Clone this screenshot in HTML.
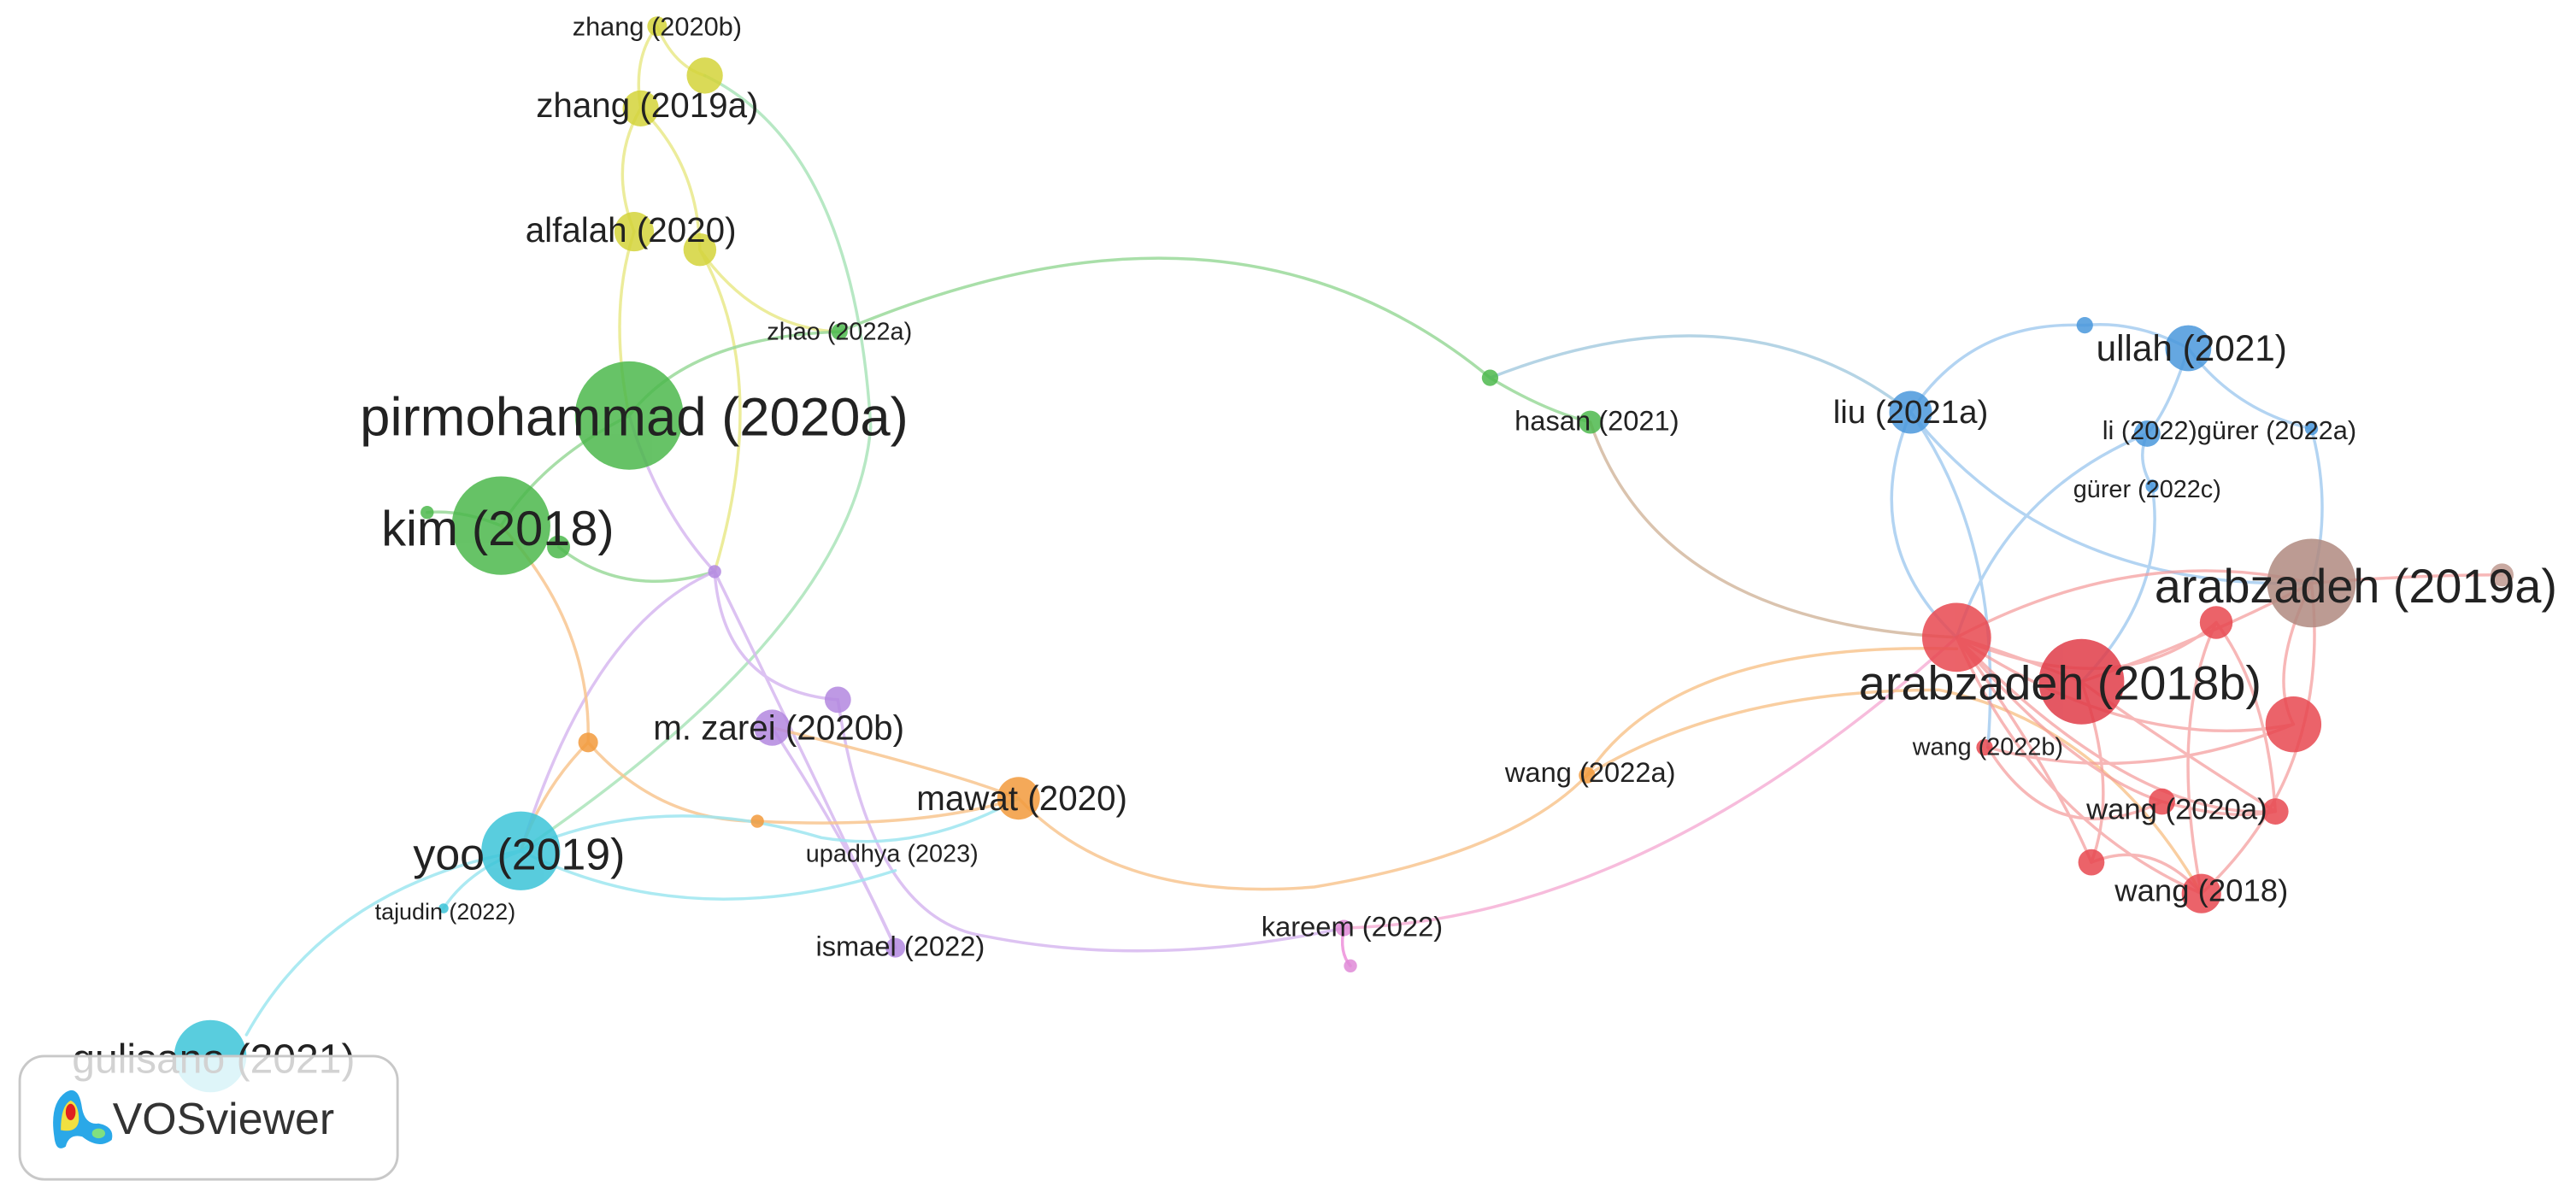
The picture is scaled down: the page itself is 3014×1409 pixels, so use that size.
<!DOCTYPE html>
<html><head><meta charset="utf-8"><style>
html,body{margin:0;padding:0;background:#fff;}
svg{display:block;}
text{font-family:"Liberation Sans",sans-serif;fill:#222;text-anchor:middle;dominant-baseline:central;}
</style></head><body>
<svg width="3014" height="1409" viewBox="0 0 1568 733" xmlns="http://www.w3.org/2000/svg">
<g fill="none" stroke-width="1.8" stroke-linecap="round">
<g stroke="#e6e67a" opacity="0.75">
<path d="M400,16 Q385,35 390,66"/>
<path d="M400,16 Q410,40 429,46"/>
<path d="M390,66 Q370,100 386,141"/>
<path d="M390,66 Q425,100 426,152"/>
<path d="M386,141 Q370,190 383,253"/>
<path d="M426,152 Q470,230 435,348"/>
<path d="M426,152 Q460,200 511,202"/>
</g>
<path d="M429,46 Q520,90 530,260 Q520,380 317,518" stroke="#9fe0b0" opacity="0.75"/>
<g stroke="#9ad99a" opacity="0.85">
<path d="M383,253 Q420,205 511,202"/>
<path d="M383,253 Q330,280 305,320"/>
<path d="M511,202 Q750,100 907,230"/>
<path d="M907,230 Q940,250 968,257"/>
<path d="M305,320 Q280,310 260,312"/>
<path d="M340,333 Q380,365 435,348"/>
</g>
<path d="M907,230 Q1060,170 1163,251" stroke="#a8cce0" opacity="0.85"/>
<path d="M968,257 Q1010,380 1191,388" stroke="#d4b8a0" opacity="0.85"/>
<g stroke="#d7b8f0" opacity="0.85">
<path d="M383,253 Q400,310 435,348"/>
<path d="M435,348 Q360,380 317,518"/>
<path d="M435,348 Q440,420 510,426"/>
<path d="M435,348 Q480,440 545,577"/>
<path d="M470,443 Q520,520 545,577"/>
<path d="M510,426 Q530,560 600,570 Q700,590 818,565"/>
</g>
<path d="M818,565 Q1000,560 1191,388" stroke="#f6b0d6" opacity="0.85"/>
<path d="M818,565 Q815,580 822,588" stroke="#f0a0e0"/>
<g stroke="#f8c690" opacity="0.85">
<path d="M305,320 Q360,380 358,452"/>
<path d="M358,452 Q330,480 317,518"/>
<path d="M358,452 Q400,500 461,500 Q560,505 620,486"/>
<path d="M470,443 Q580,470 620,486"/>
<path d="M620,486 Q680,550 800,540 Q920,520 966,472 Q1020,390 1191,395"/>
<path d="M966,472 Q1050,420 1180,420 Q1280,440 1340,544"/>
</g>
<g stroke="#9ee6f0" opacity="0.85">
<path d="M317,518 Q200,540 150,630"/>
<path d="M270,553 Q285,530 317,518"/>
<path d="M317,518 Q400,480 500,510 Q560,520 620,486"/>
<path d="M317,518 Q420,570 545,530"/>
</g>
<g stroke="#a6cdf0" opacity="0.85">
<path d="M1163,251 Q1200,195 1269,198 Q1300,195 1332,212"/>
<path d="M1332,212 Q1320,250 1307,264"/>
<path d="M1332,212 Q1360,250 1407,261"/>
<path d="M1307,264 Q1300,280 1310,296 Q1320,360 1267,415"/>
<path d="M1407,261 Q1420,310 1407,355"/>
<path d="M1163,251 Q1130,330 1191,388"/>
<path d="M1163,251 Q1220,330 1210,455"/>
<path d="M1163,251 Q1250,360 1407,355"/>
<path d="M1307,264 Q1220,300 1191,388"/>
</g>
<g stroke="#f49a9a" opacity="0.7">
<path d="M1191,388 Q1300,330 1407,355"/>
<path d="M1191,388 Q1230,400 1267,415"/>
<path d="M1191,388 Q1290,430 1349,379"/>
<path d="M1191,388 Q1300,460 1396,441"/>
<path d="M1191,388 Q1260,470 1316,488"/>
<path d="M1191,388 Q1300,500 1385,494"/>
<path d="M1191,388 Q1250,470 1273,525"/>
<path d="M1191,388 Q1240,500 1340,544"/>
<path d="M1210,455 Q1300,480 1396,441"/>
<path d="M1210,455 Q1250,520 1316,488"/>
<path d="M1267,415 Q1300,440 1385,494"/>
<path d="M1267,415 Q1290,480 1273,525"/>
<path d="M1267,415 Q1340,390 1407,355"/>
<path d="M1349,379 Q1380,420 1385,494"/>
<path d="M1349,379 Q1320,440 1340,544"/>
<path d="M1407,355 Q1420,470 1340,544"/>
<path d="M1407,355 Q1380,410 1396,441"/>
<path d="M1273,525 Q1310,510 1340,544"/>
<path d="M1316,488 Q1360,500 1385,494"/>
<path d="M1407,355 Q1470,350 1523,350"/>
</g>
</g>
<g opacity="0.85">
<circle cx="400" cy="16" r="6" fill="#d4d43a"/>
<circle cx="429" cy="46" r="11" fill="#d4d43a"/>
<circle cx="390" cy="66" r="11" fill="#d4d43a"/>
<circle cx="386" cy="141" r="12" fill="#d4d43a"/>
<circle cx="426" cy="152" r="10" fill="#d4d43a"/>
<circle cx="511" cy="202" r="5" fill="#4cb84c"/>
<circle cx="383" cy="253" r="33" fill="#4cb84c"/>
<circle cx="305" cy="320" r="30" fill="#4cb84c"/>
<circle cx="340" cy="333" r="7" fill="#4cb84c"/>
<circle cx="260" cy="312" r="4" fill="#4cb84c"/>
<circle cx="907" cy="230" r="5" fill="#4cb84c"/>
<circle cx="968" cy="257" r="7" fill="#4cb84c"/>
<circle cx="435" cy="348" r="4" fill="#b388e0"/>
<circle cx="510" cy="426" r="8" fill="#b388e0"/>
<circle cx="470" cy="443" r="11" fill="#b388e0"/>
<circle cx="545" cy="577" r="6" fill="#b388e0"/>
<circle cx="358" cy="452" r="6" fill="#f29a3c"/>
<circle cx="461" cy="500" r="4" fill="#f29a3c"/>
<circle cx="620" cy="486" r="13" fill="#f29a3c"/>
<circle cx="966" cy="472" r="5" fill="#f29a3c"/>
<circle cx="317" cy="518" r="24" fill="#3cc4d8"/>
<circle cx="270" cy="553" r="3" fill="#3cc4d8"/>
<circle cx="128" cy="643" r="22" fill="#3cc4d8"/>
<circle cx="818" cy="565" r="5" fill="#e08ad8"/>
<circle cx="822" cy="588" r="4" fill="#e08ad8"/>
<circle cx="1163" cy="251" r="13" fill="#4a98dc"/>
<circle cx="1269" cy="198" r="5" fill="#4a98dc"/>
<circle cx="1332" cy="212" r="14" fill="#4a98dc"/>
<circle cx="1307" cy="264" r="8" fill="#4a98dc"/>
<circle cx="1407" cy="261" r="4" fill="#4a98dc"/>
<circle cx="1310" cy="296" r="4" fill="#4a98dc"/>
<circle cx="1407" cy="355" r="27" fill="#b08a80"/>
<circle cx="1523" cy="350" r="7" fill="#c09a90"/>
<circle cx="1191" cy="388" r="21" fill="#e84850"/>
<circle cx="1267" cy="415" r="26" fill="#e03c48"/>
<circle cx="1349" cy="379" r="10" fill="#e84850"/>
<circle cx="1396" cy="441" r="17" fill="#e84850"/>
<circle cx="1208" cy="455" r="5" fill="#e84850"/>
<circle cx="1316" cy="488" r="8" fill="#e84850"/>
<circle cx="1385" cy="494" r="8" fill="#e84850"/>
<circle cx="1273" cy="525" r="8" fill="#e84850"/>
<circle cx="1340" cy="544" r="12" fill="#e84850"/>
</g>
<text x="400" y="16" font-size="16">zhang (2020b)</text>
<text x="394" y="64" font-size="21">zhang (2019a)</text>
<text x="384" y="140" font-size="21">alfalah (2020)</text>
<text x="511" y="202" font-size="15">zhao (2022a)</text>
<text x="386" y="254" font-size="33">pirmohammad (2020a)</text>
<text x="303" y="322" font-size="30">kim (2018)</text>
<text x="474" y="443" font-size="21">m. zarei (2020b)</text>
<text x="622" y="486" font-size="21">mawat (2020)</text>
<text x="316" y="520" font-size="27">yoo (2019)</text>
<text x="543" y="520" font-size="15">upadhya (2023)</text>
<text x="271" y="555" font-size="14">tajudin (2022)</text>
<text x="548" y="576" font-size="17">ismael (2022)</text>
<text x="823" y="564" font-size="17">kareem (2022)</text>
<text x="972" y="256" font-size="17">hasan (2021)</text>
<text x="968" y="470" font-size="17">wang (2022a)</text>
<text x="1163" y="251" font-size="20">liu (2021a)</text>
<text x="1334" y="212" font-size="22">ullah (2021)</text>
<text x="1357" y="262" font-size="16">li (2022)gürer (2022a)</text>
<text x="1307" y="298" font-size="15">gürer (2022c)</text>
<text x="1434" y="357" font-size="29">arabzadeh (2019a)</text>
<text x="1254" y="416" font-size="29">arabzadeh (2018b)</text>
<text x="1210" y="455" font-size="15">wang (2022b)</text>
<text x="1325" y="493" font-size="18">wang (2020a)</text>
<text x="1340" y="542" font-size="19">wang (2018)</text>
<text x="130" y="645" font-size="25">gulisano (2021)</text>
<rect x="12" y="643" width="230" height="75" rx="15" fill="#fff" fill-opacity="0.8" stroke="#c8c8c8" stroke-width="1.5"/>
<g>
<path d="M33,692 Q30,672 40,665 Q48,660 50,675 Q52,685 60,684 Q70,686 68,694 Q60,700 50,692 Q42,690 40,698 Q34,702 33,692 Z" fill="#2aa8e8"/>
<path d="M37,688 Q37,673 43,670 Q48,672 48,682 Q47,690 37,688 Z" fill="#f0e040"/>
<ellipse cx="43" cy="677" rx="3" ry="5" fill="#e02020"/>
<ellipse cx="60" cy="690" rx="4" ry="3" fill="#80e080"/>
</g>
<text x="136" y="681" font-size="27" style="fill:#333">VOSviewer</text>
</svg>
</body></html>
